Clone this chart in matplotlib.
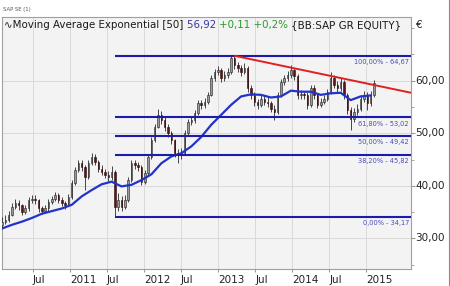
import matplotlib
matplotlib.use("Agg")
import matplotlib.pyplot as plt
import matplotlib.dates as mdates
from matplotlib.lines import Line2D
from matplotlib.ticker import FixedLocator, MultipleLocator
import numpy as np
import pandas as pd

# ---------------- data ----------------
closes = [33.2, 33.6, 34.5, 36.0, 36.8, 36.3, 35.1, 35.7, 37.3, 37.6,
          37.3, 35.7, 35.2, 35.7, 37.0, 37.5, 38.2, 37.4, 36.7, 36.4,
          37.9, 40.5, 43.0, 44.3, 43.6, 41.7, 44.3, 45.5, 44.6, 43.3,
          42.7, 42.1, 41.7, 42.7, 36.0, 37.3, 36.0, 37.3, 41.1, 44.3,
          44.0, 43.6, 40.8, 42.4, 45.5, 48.7, 51.2, 53.5, 52.5, 51.2,
          50.0, 48.7, 46.2, 45.9, 46.2, 50.0, 52.2, 52.5, 53.8, 55.7,
          55.4, 56.0, 57.3, 60.5, 61.7, 62.0, 60.5, 61.1, 61.7, 64.3,
          63.0, 62.4, 61.7, 62.4, 58.6, 57.3, 56.0, 55.4, 56.6, 56.0,
          55.7, 54.7, 54.1, 57.3, 59.8, 60.5, 61.1, 62.0, 60.8, 57.3,
          57.4, 57.3, 55.4, 58.6, 57.3, 55.4, 56.0, 56.6, 57.9, 60.5,
          59.2, 58.6, 59.8, 57.3, 54.4, 52.8, 54.1, 54.7, 56.6, 57.3,
          55.7, 57.3, 59.5]
highs = [34.0, 34.4, 35.3, 36.8, 37.5, 37.4, 36.6, 36.4, 37.9, 38.3,
         38.2, 37.6, 36.2, 36.4, 37.6, 38.1, 38.8, 38.7, 37.9, 37.2,
         38.5, 41.1, 43.6, 45.0, 44.9, 43.9, 44.9, 46.2, 46.0, 45.0,
         43.9, 43.3, 42.8, 43.8, 43.0, 38.6, 38.0, 38.2, 41.7, 44.9,
         45.0, 44.6, 43.9, 43.0, 46.0, 49.3, 51.8, 54.7, 54.2, 53.0,
         51.7, 50.4, 49.0, 47.0, 47.2, 50.6, 52.8, 53.2, 54.4, 56.3,
         56.4, 56.7, 57.9, 61.1, 62.3, 62.7, 62.4, 61.8, 62.4, 64.9,
         64.6, 63.6, 62.9, 63.3, 62.8, 59.2, 57.8, 56.6, 57.3, 57.2,
         56.8, 56.2, 55.3, 57.9, 60.4, 61.1, 61.8, 63.0, 62.5, 61.2,
         58.2, 58.1, 57.8, 59.2, 59.1, 57.7, 56.7, 57.3, 58.5, 61.7,
         61.0, 59.9, 60.6, 60.2, 57.7, 54.9, 54.8, 55.5, 57.3, 58.0,
         57.8, 58.0, 60.1]
lows = [32.0, 32.8, 33.2, 34.2, 35.6, 35.4, 34.4, 34.6, 35.2, 36.8,
        36.5, 35.0, 34.6, 34.8, 35.3, 36.6, 37.1, 36.8, 36.1, 35.6,
        36.1, 37.6, 40.1, 42.6, 42.9, 39.2, 41.3, 43.9, 44.0, 42.7,
        42.0, 41.5, 41.0, 41.2, 34.1, 35.2, 35.3, 35.6, 36.9, 40.7,
        43.2, 42.8, 40.2, 40.3, 42.0, 45.1, 48.3, 51.0, 51.8, 50.5,
        49.3, 48.0, 45.5, 44.3, 45.2, 45.8, 49.6, 51.6, 52.0, 53.4,
        54.7, 54.8, 55.6, 57.0, 60.0, 61.0, 59.8, 60.0, 60.6, 61.3,
        62.3, 61.6, 60.9, 61.2, 57.9, 56.6, 55.2, 54.6, 55.0, 55.3,
        55.0, 54.0, 52.5, 53.7, 56.9, 59.2, 60.0, 60.6, 60.1, 56.6,
        56.5, 56.6, 54.7, 55.0, 56.6, 54.8, 55.0, 55.6, 56.1, 57.5,
        58.6, 57.9, 58.1, 56.6, 53.6, 50.6, 52.2, 53.5, 54.2, 56.0,
        54.5, 55.2, 56.9]
first_open = 32.6

ema50 = [31.9, 32.6, 33.2, 33.9, 34.7, 35.2, 35.7, 36.4, 38.0, 39.2,
         40.3, 40.8, 39.9, 40.2, 41.1, 42.2, 44.3, 45.6, 46.2, 47.5,
         49.3, 51.6, 53.5, 55.4, 57.0, 57.4, 57.3, 56.8, 57.0, 58.1,
         57.9, 57.9, 57.3, 57.6, 57.7, 56.3, 57.0, 57.2]

fib_levels = [64.67, 53.02, 49.42, 45.82, 34.17]
fib_labels = ["100,00% - 64,67", "61,80% - 53,02", "50,00% - 49,42",
              "38,20% - 45,82", "0,00% - 34,17"]
fib_start = "2011-08-12"

trend_dates = ["2013-03-25", "2015-08-09"]
trend_values = [64.7, 57.7]

x_tick_dates = ["2010-07-01", "2011-01-01", "2011-07-01", "2012-01-01",
                "2012-07-01", "2013-01-01", "2013-07-01", "2014-01-01",
                "2014-07-01", "2015-01-01"]
x_tick_labels = ["Jul", "2011", "Jul", "2012", "Jul", "2013", "Jul",
                 "2014", "Jul", "2015"]
y_ticks = [30, 40, 50, 60]
y_tick_labels = ["30,00", "40,00", "50,00", "60,00"]

# ---------------- figure ----------------
W, H = 450, 286
fig = plt.figure(figsize=(W / 100, H / 100), dpi=100)
fig.patch.set_facecolor("white")
ax = fig.add_axes([2 / W, (H - 269) / H, 409 / W, 252 / H])
ax.set_facecolor("#f3f3f3")

dates = pd.date_range("2010-01-30", "2015-02-07", periods=len(closes))
ema_dates = dates[::3]

opens = [first_open] + closes[:-1]
dnum = mdates.date2num(dates)
step = dnum[1] - dnum[0]
o = np.array(opens)
c = np.array(closes)
up = c >= o

# wicks
ax.vlines(dnum, lows, highs, color="#2a2a2a", lw=0.6, zorder=3)
# bodies
body_bottom = np.minimum(o, c)
body_h = np.maximum(np.abs(c - o), 0.15)
ax.bar(dnum[up], body_h[up], bottom=body_bottom[up], width=step * 0.45,
       color="#9a9a9a", edgecolor="#1e1e1e", linewidth=0.4, zorder=4)
ax.bar(dnum[~up], body_h[~up], bottom=body_bottom[~up], width=step * 0.45,
       color="#5e1414", edgecolor="#2a0a0a", linewidth=0.4, zorder=4)

# EMA
ax.plot(ema_dates, ema50, color="#2233cc", lw=1.6, zorder=5)

# fib lines
xl = (pd.Timestamp("2010-01-30"), pd.Timestamp("2015-08-09"))
for lvl, lab in zip(fib_levels, fib_labels):
    ax.plot([pd.Timestamp(fib_start), xl[1]], [lvl, lvl], color="#1c1caa",
            lw=1.5, zorder=6, solid_capstyle="butt")
    ax.text(0.995, lvl - 0.6, lab, transform=ax.get_yaxis_transform(),
            ha="right", va="top", fontsize=4.8, color="#4a4ac0", zorder=7)

# trend line
ax.plot(pd.to_datetime(trend_dates), trend_values, color="#e02020", lw=1.4,
        zorder=6)

ax.set_xlim(xl)
ax.set_ylim(24.2, 72.1)

# grid
ax.xaxis.set_major_locator(FixedLocator(mdates.date2num(pd.to_datetime(x_tick_dates))))
ax.set_xticklabels([])
ax.yaxis.set_major_locator(FixedLocator(y_ticks))
ax.yaxis.set_minor_locator(MultipleLocator(5))
ax.grid(True, which="major", color="#d6d6d6", lw=0.6, zorder=0)
ax.set_axisbelow(True)
ax.tick_params(axis="x", length=2, color="#999999", direction="out")
ax.tick_params(axis="y", which="both", left=False, labelleft=False,
               right=True, labelright=False, length=2, color="#999999")
ax.tick_params(axis="y", which="major", length=3)
for s in ax.spines.values():
    s.set_color("#a0a0a0")
    s.set_linewidth(0.8)

# x tick labels (left-aligned at tick)
for d, lab in zip(x_tick_dates, x_tick_labels):
    ax.text(pd.Timestamp(d), -0.022, lab, transform=ax.get_xaxis_transform(),
            ha="left", va="top", fontsize=7.5, color="#222222")

# right y labels
for v, lab in zip(y_ticks, y_tick_labels):
    ax.text(1.01, v, lab, transform=ax.get_yaxis_transform(), ha="left",
            va="center", fontsize=7.5, color="#222222")
fig.text(416 / W, 1 - 25 / H, "€", ha="left", va="center", fontsize=7.5,
         color="#222222")

# outer right frame line
fig.add_artist(Line2D([448.5 / W, 448.5 / W], [0, 1], color="#8a8a8a",
                      lw=0.8, transform=fig.transFigure))

# header
fig.text(3 / W, 1 - 10 / H, "SAP SE (1)", ha="left", va="center",
         fontsize=3.8, color="#555555")

parts = [("∿Moving Average Exponential [50] ", "#1a1a1a"),
         ("56,92 ", "#3535a8"),
         ("+0,11 +0,2% ", "#2a9a2a"),
         ("{BB:SAP GR EQUITY}", "#1a1a1a")]
fig.canvas.draw()
renderer = fig.canvas.get_renderer()
xpos = 4 / W
for txt, col in parts:
    t = fig.text(xpos, 1 - 25 / H, txt, ha="left", va="center",
                 fontsize=7.35, color=col)
    bb = t.get_window_extent(renderer=renderer)
    xpos += bb.width / W

fig.savefig("out.png", dpi=100, facecolor="white")
